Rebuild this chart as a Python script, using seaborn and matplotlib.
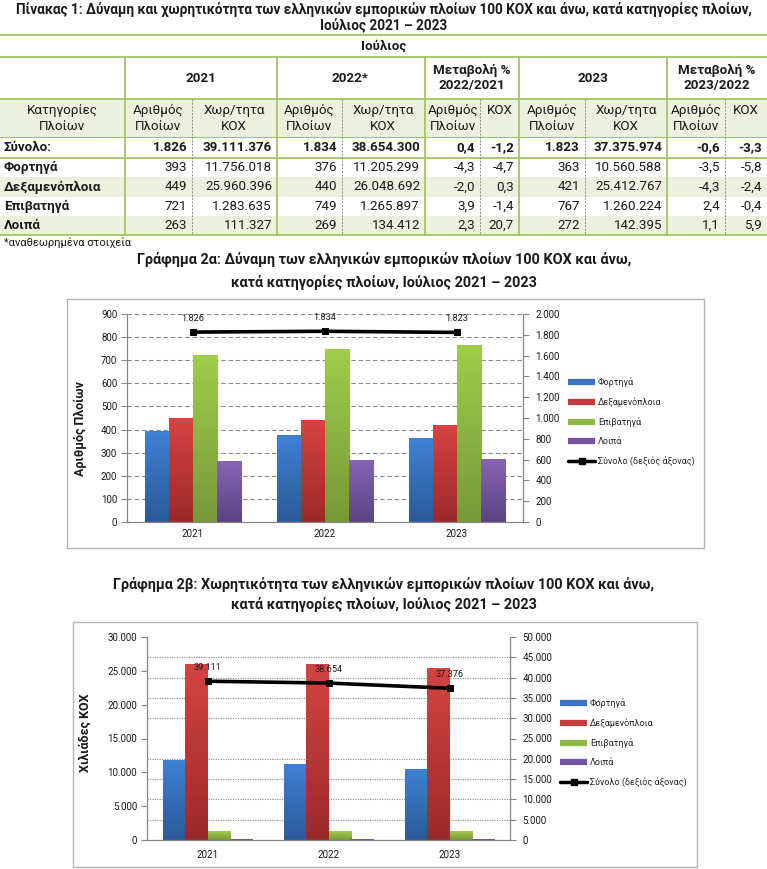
import numpy as np
import pandas as pd
import matplotlib
matplotlib.use("Agg")
import matplotlib.pyplot as plt
import seaborn as sns
from matplotlib.lines import Line2D
from matplotlib.patches import Rectangle
from matplotlib.colors import LinearSegmentedColormap
from matplotlib.ticker import MultipleLocator, FuncFormatter

# ---------------- data ----------------
categories = ["Φορτηγά", "Δεξαμενόπλοια", "Επιβατηγά", "Λοιπά"]
years = ["2021", "2022", "2023"]

ships_2021 = [393, 449, 721, 263]
ships_2022 = [376, 440, 749, 269]
ships_2023 = [363, 421, 767, 272]
gt_2021 = [11756018, 25960396, 1283635, 111327]
gt_2022 = [11205299, 26048692, 1265897, 134412]
gt_2023 = [10560588, 25412767, 1260224, 142395]
total_ships = [1826, 1834, 1823]
total_gt = [39111376, 38654300, 37375974]

chg_ships_22_21 = [0.4, -4.3, -2.0, 3.9, 2.3]   # total first
chg_gt_22_21 = [-1.2, -4.7, 0.3, -1.4, 20.7]
chg_ships_23_22 = [-0.6, -3.5, -4.3, 2.4, 1.1]
chg_gt_23_22 = [-3.3, -5.8, -2.4, -0.4, 5.9]

# ---------------- style ----------------
sns.set_theme(style="white")
plt.rcParams["font.family"] = ["Roboto", "DejaVu Sans"]

W, H = 767, 869
fig = plt.figure(figsize=(W / 100, H / 100), dpi=100)
fig.patch.set_facecolor("white")

GREEN = "#a3c464"
SHADE = "#ebf1de"
TXT = "#1a1a1a"


def fx(x):
    return x / W


def fy(y):
    return 1 - y / H


def T(x, y, s, size=9.6, weight="normal", ha="center", va="center", **kw):
    fig.text(fx(x), fy(y), s, fontsize=size, fontweight=weight, ha=ha, va=va,
             color=kw.pop("color", TXT), **kw)


def HL(y, x0, x1, color=GREEN, lw=1.3, ls="-"):
    fig.add_artist(Line2D([fx(x0), fx(x1)], [fy(y), fy(y)], transform=fig.transFigure,
                          color=color, lw=lw, ls=ls))


def VL(x, y0, y1, color=GREEN, lw=1.3, ls="-"):
    fig.add_artist(Line2D([fx(x), fx(x)], [fy(y0), fy(y1)], transform=fig.transFigure,
                          color=color, lw=lw, ls=ls))


def RECT(x0, y0, x1, y1, fc, ec="none", lw=0, z=-2):
    fig.add_artist(Rectangle((fx(x0), fy(y1)), fx(x1) - fx(x0), fy(y0) - fy(y1),
                             transform=fig.transFigure, facecolor=fc, edgecolor=ec,
                             lw=lw, zorder=z))


def fmt_int(v):
    return f"{int(round(v)):,}".replace(",", ".")


def fmt_pct(v):
    return f"{v:.1f}".replace(".", ",")


# ---------------- table ----------------
T(384, 9, "Πίνακας 1: Δύναμη και χωρητικότητα των ελληνικών εμπορικών πλοίων 100 ΚΟΧ και άνω, κατά κατηγορίες πλοίων,",
  size=9.8, weight="bold")
T(384, 26, "Ιούλιος 2021 – 2023", size=9.8, weight="bold")

RECT(0, 99, 767, 137, SHADE)
RECT(0, 177, 767, 196.5, SHADE)
RECT(0, 216, 767, 235, SHADE)

HL(35, 0, 767)
T(384, 46, "Ιούλιος", weight="bold")
HL(57, 0, 767)
HL(99, 0, 767)
HL(137, 0, 767, lw=0.8)
HL(158, 0, 767)
HL(235, 0, 767)

for x in [125, 277, 425, 519, 667]:
    VL(x, 57, 235)
for x in [192, 342, 480, 585, 725]:
    VL(x, 99, 235, color="#8c8c8c", lw=0.7, ls=(0, (2, 1.5)))

# header row
T(201, 78, "2021", weight="bold")
T(350, 78, "2022*", weight="bold")
T(472, 78, "Μεταβολή %\n2022/2021", weight="bold", linespacing=1.25)
T(593, 78, "2023", weight="bold")
T(717, 78, "Μεταβολή %\n2023/2022", weight="bold", linespacing=1.25)

# sub-header row
sub_y = 118.5
T(62, sub_y, "Κατηγορίες\nΠλοίων", linespacing=1.25)
for xc in [158, 309, 453, 552, 696]:
    T(xc, sub_y, "Αριθμός\nΠλοίων", linespacing=1.25)
for xc in [234, 383, 626]:
    T(xc, sub_y, "Χωρ/τητα\nΚΟΧ", linespacing=1.25)
T(500, 110, "ΚΟΧ")
T(746, 110, "ΚΟΧ")

row_labels = ["Σύνολο:"] + categories
row_y = [147.5, 167.5, 187, 206, 225.5]
col_right = [187, 272, 337, 420, 475, 514, 580, 662, 720, 762]
ships_rows = [total_ships] + [[a, b, c] for a, b, c in zip(ships_2021, ships_2022, ships_2023)]
gt_rows = [total_gt] + [[a, b, c] for a, b, c in zip(gt_2021, gt_2022, gt_2023)]
for i, (lab, y) in enumerate(zip(row_labels, row_y)):
    w = "bold" if i == 0 else "normal"
    T(4, y, lab, weight="bold", ha="left")
    s, g = ships_rows[i], gt_rows[i]
    vals = [fmt_int(s[0]), fmt_int(g[0]), fmt_int(s[1]), fmt_int(g[1]),
            fmt_pct(chg_ships_22_21[i]), fmt_pct(chg_gt_22_21[i]),
            fmt_int(s[2]), fmt_int(g[2]),
            fmt_pct(chg_ships_23_22[i]), fmt_pct(chg_gt_23_22[i])]
    for xr, v in zip(col_right, vals):
        T(xr, y, v, weight=w, ha="right")

T(4, 243, "*αναθεωρημένα στοιχεία", size=8.0, ha="left")

# ---------------- charts ----------------
grad_colors = {
    "Φορτηγά": ("#2b5a98", "#3f81d4"),
    "Δεξαμενόπλοια": ("#9c2a2a", "#d64343"),
    "Επιβατηγά": ("#76993a", "#a0cd4c"),
    "Λοιπά": ("#5b4384", "#8665b4"),
}
legend_colors = ["#3b74c2", "#c63b3b", "#8dba45", "#7454a2"]
AXC = "#868686"


def thousands(v, pos=None):
    return fmt_int(v)


def bar_chart(frame, axbox, values, totals, lmax, lstep, rmax, rstep, gridkind,
              ylabel, ylab_xy, legend_xy, xpad):
    RECT(*frame, fc="white", ec="#b3b3b3", lw=1.0, z=-1)
    x0, y0, x1, y1 = axbox
    ax = fig.add_axes([fx(x0), fy(y1), fx(x1) - fx(x0), fy(y0) - fy(y1)])
    ax.set_facecolor("none")
    df = pd.DataFrame([(yr, cat, v) for yr, vals in zip(years, values)
                       for cat, v in zip(categories, vals)],
                      columns=["year", "category", "value"])
    sns.barplot(data=df, x="year", y="value", hue="category", order=years,
                hue_order=categories, palette=dict(zip(categories, legend_colors)),
                width=0.73, saturation=1, errorbar=None, legend=False, ax=ax, zorder=2)
    grad = np.linspace(0, 1, 128).reshape(-1, 1)
    for cat, cont in zip(categories, ax.containers):
        cmap = LinearSegmentedColormap.from_list(cat, list(grad_colors[cat]))
        for p in cont.patches:
            h = p.get_height()
            if h <= 0:
                continue
            im = ax.imshow(grad, extent=[p.get_x(), p.get_x() + p.get_width(), 0, h],
                           origin="lower", aspect="auto", cmap=cmap, zorder=2.1,
                           interpolation="bilinear")
            im.set_clip_path(p)
            p.set_facecolor("none")
            p.set_edgecolor("none")
    ax.set_xlim(-0.5, 2.5)
    ax.set_ylim(0, lmax)
    ax.yaxis.set_major_locator(MultipleLocator(lstep))
    ax.yaxis.set_major_formatter(FuncFormatter(thousands))
    ax.set_xticks([0, 1, 2])
    ax.set_xticklabels(years)
    ax.set_xticks([-0.5, 0.5, 1.5, 2.5], minor=True)
    ax.tick_params(axis="x", which="major", length=0, pad=xpad, labelsize=7, labelcolor=TXT)
    ax.tick_params(axis="x", which="minor", length=4, width=0.8, color=AXC, direction="out")
    ax.tick_params(axis="y", which="major", length=4, width=0.8, color=AXC, direction="out",
                   labelsize=7, labelcolor=TXT, pad=3, left=True)
    ax.set_xlabel("")
    ax.set_ylabel("")
    for s in ["top", "right"]:
        ax.spines[s].set_visible(False)
    for s in ["left", "bottom"]:
        ax.spines[s].set_color(AXC)
        ax.spines[s].set_linewidth(0.9)
    ax.set_axisbelow(True)
    if gridkind == "dashed":
        ax.yaxis.grid(True, which="major", color="#8a8a8a", lw=0.8, ls=(0, (4, 2.5)))
    else:
        ax.yaxis.set_minor_locator(MultipleLocator(lmax / (rmax / rstep)))
        ax.tick_params(axis="y", which="minor", length=0)
        ax.yaxis.grid(True, which="minor", color="#8a8a8a", lw=0.8, ls=(0, (1, 1.2)))
        ax.yaxis.grid(False, which="major")
    ax.xaxis.grid(False)

    ax2 = ax.twinx()
    ax2.set_facecolor("none")
    sns.lineplot(x=np.arange(3), y=totals, ax=ax2, color="black", lw=2.6, marker="s",
                 markersize=5, markeredgecolor="black", zorder=5)
    ax2.set_ylim(0, rmax)
    ax2.set_xlim(-0.5, 2.5)
    ax2.yaxis.set_major_locator(MultipleLocator(rstep))
    ax2.yaxis.set_major_formatter(FuncFormatter(thousands))
    ax2.tick_params(axis="y", length=4, width=0.8, color=AXC, direction="out",
                    labelsize=7, labelcolor=TXT, pad=5, right=True)
    ax2.set_ylabel("")
    ax2.set_xlabel("")
    for s in ["top", "left", "bottom"]:
        ax2.spines[s].set_visible(False)
    ax2.spines["right"].set_color(AXC)
    ax2.spines["right"].set_linewidth(0.9)
    for i, t in enumerate(totals):
        ax2.annotate(fmt_int(t), (i, t), xytext=(0, 10), textcoords="offset points",
                     ha="center", va="center", fontsize=6.6, color=TXT)

    handles = [Line2D([], [], color=c, lw=4.5, solid_capstyle="butt") for c in legend_colors]
    handles.append(Line2D([], [], color="black", lw=2.5, marker="s", markersize=4))
    labels = categories + ["Σύνολο (δεξιός άξονας)"]
    ax2.legend(handles, labels, loc="upper left",
               bbox_to_anchor=(fx(legend_xy[0]), fy(legend_xy[1])),
               bbox_transform=fig.transFigure, frameon=False, fontsize=6.5,
               handlelength=3.0, handletextpad=0.3, labelspacing=1.12,
               borderpad=0, borderaxespad=0)
    T(ylab_xy[0], ylab_xy[1], ylabel, size=9.0, weight="bold", rotation=90)
    return ax, ax2


# Chart 2a
T(384, 259, "Γράφημα 2α: Δύναμη των ελληνικών εμπορικών πλοίων 100 ΚΟΧ και άνω,",
  size=10.4, weight="bold")
T(384, 282, "κατά κατηγορίες πλοίων, Ιούλιος 2021 – 2023", size=10.4, weight="bold")
bar_chart((67, 299, 704, 548), (127, 314, 523, 522),
          [ships_2021, ships_2022, ships_2023], total_ships,
          900, 100, 2000, 200, "dashed", "Αριθμός Πλοίων", (80, 428), (568, 377), 5)

# Chart 2b
T(384, 584, "Γράφημα 2β: Χωρητικότητα των ελληνικών εμπορικών πλοίων 100 ΚΟΧ και άνω,",
  size=10.4, weight="bold")
T(384, 604, "κατά κατηγορίες πλοίων, Ιούλιος 2021 – 2023", size=10.4, weight="bold")
gt_k = [[v / 1000 for v in g] for g in (gt_2021, gt_2022, gt_2023)]
bar_chart((73, 622, 697, 867), (147, 637, 510, 840),
          gt_k, [v / 1000 for v in total_gt],
          30000, 5000, 50000, 5000, "dotted", "Χιλιάδες ΚΟΧ", (85, 733), (560, 698), 7)

fig.savefig("out.png", dpi=100, facecolor="white")
